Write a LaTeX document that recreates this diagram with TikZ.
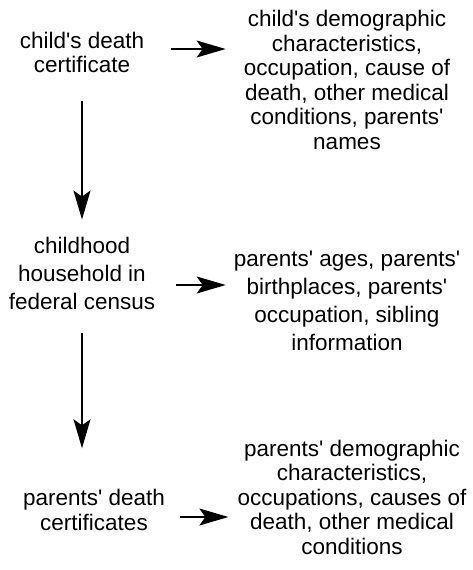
\documentclass[tikz,border=0pt]{standalone}
\usepackage{fontspec}
\setmainfont{Liberation Sans}[Ligatures=TeXOff]
\usepackage{tikz}
\usetikzlibrary{arrows.meta, positioning, calc}

\tikzset{
  source/.style={align=center, inner sep=0pt, font=\fontsize{22.5}{24.5}\selectfont},
  info/.style={align=center, inner sep=0pt, font=\fontsize{22.5}{24.5}\selectfont},
  wide/.style={font=\fontsize{22.5}{28}\selectfont},
  flow/.style={line width=1.3pt, -{Stealth[length=29pt, width=17pt, inset=6pt]}}
}

\begin{document}
\begin{tikzpicture}[x=1pt, y=-1pt]
  \useasboundingbox (0,0) rectangle (472,570);

  %--- record sources (left column) ---
  \node[source]       (cdc) at (82, 52.5) {child's death\\certificate};
  \node[source, wide] (cen) at (82, 273) {childhood\\household in\\federal census};
  \node[source]       (pdc) at (94, 510)  {parents' death\\certificates};

  %--- information taken from each source (right column) ---
  \node[info] (cdcinfo) at (347, 80)
    {child's demographic\\characteristics,\\occupation, cause of\\death, other medical\\conditions, parents'\\names};
  \node[info, wide] (ceninfo) at (347, 301)
    {parents' ages, parents'\\birthplaces, parents'\\occupation, sibling\\information};
  \node[info] (pdcinfo) at (352, 497)
    {parents' demographic\\characteristics,\\occupations, causes of\\death, other medical\\conditions};

  % horizontal arrows
  \coordinate (h1) at ([yshift=3.5pt]cdc.east);
  \coordinate (h2) at ([yshift=-12pt]cen.east);
  \coordinate (h3) at ([yshift=-7pt]pdc.east);
  \draw[flow, shorten <=26.5pt, shorten >=18pt] (h1) -- (h1 -| cdcinfo.west);
  \draw[flow, shorten <=20.5pt, shorten >=8pt]  (h2) -- (h2 -| ceninfo.west);
  \draw[flow, shorten <=14.5pt, shorten >=9pt]  (h3) -- (h3 -| pdcinfo.west);

  % vertical arrows
  \draw[flow, shorten <=28pt, shorten >=17pt] (cdc.south) -- (cen.north);
  \draw[flow, shorten <=24pt, shorten >=41pt] (cen.south) -- (cen.south |- pdc.north);
\end{tikzpicture}
\end{document}
